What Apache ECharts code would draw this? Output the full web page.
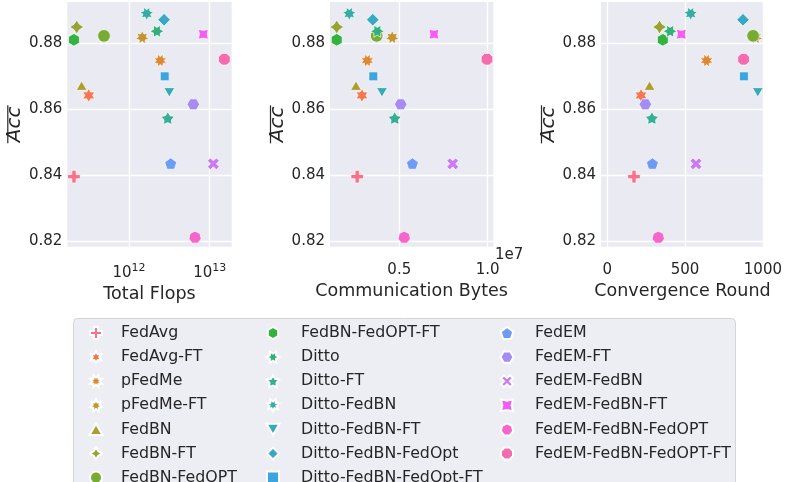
<!DOCTYPE html>
<html>
<head>
<meta charset="utf-8">
<script src="https://cdn.jsdelivr.net/npm/echarts@6/dist/echarts.min.js"></script>
<style>
  html, body { margin: 0; padding: 0; background: #ffffff; }
  #chart { width: 785px; height: 482px; }
</style>
</head>
<body>
<div id="chart"></div>
<script>
// ---- data -------------------------------------------------------------
const methods = [
  'FedAvg', 'FedAvg-FT', 'pFedMe', 'pFedMe-FT', 'FedBN', 'FedBN-FT', 'FedBN-FedOPT',
  'FedBN-FedOPT-FT', 'Ditto', 'Ditto-FT', 'Ditto-FedBN', 'Ditto-FedBN-FT', 'Ditto-FedBN-FedOpt',
  'Ditto-FedBN-FedOpt-FT', 'FedEM', 'FedEM-FT', 'FedEM-FedBN', 'FedEM-FedBN-FT',
  'FedEM-FedBN-FedOPT', 'FedEM-FedBN-FedOPT-FT'
];
const accuracy = [
  0.8395, 0.8642, 0.8748, 0.8818, 0.8667, 0.8850, 0.8823,
  0.8811, 0.8837, 0.8571, 0.8891, 0.8656, 0.8872,
  0.8700, 0.8433, 0.8615, 0.8434, 0.8828,
  0.8210, 0.8752
];
const totalFlops = [
  2.08e11, 3.17e11, 2.44e12, 1.46e12, 2.59e11, 2.25e11, 4.90e11,
  2.08e11, 2.22e12, 3.02e12, 1.66e12, 3.16e12, 2.72e12,
  2.77e12, 3.29e12, 6.27e12, 1.11e13, 8.34e12,
  6.58e12, 1.52e13
];
const commBytes = [
  2.62e6, 2.89e6, 3.19e6, 4.60e6, 2.55e6, 1.46e6, 3.72e6,
  1.46e6, 3.76e6, 4.74e6, 2.17e6, 4.02e6, 3.50e6,
  3.53e6, 5.74e6, 5.08e6, 8.02e6, 6.96e6,
  5.28e6, 9.96e6
];
const convRounds = [
  172, 217, 638, 955, 272, 336, 937,
  357, 404, 287, 536, 967, 872,
  878, 290, 245, 570, 476,
  328, 876
];
const flopsTicks = [1e12, 1e13];
const bytesTicks = [5e6, 1e7];
const roundTicks = [0, 500, 1000];
const accTicks = [0.82, 0.84, 0.86, 0.88];

// ---- husl palette (same algorithm seaborn uses) -----------------------
function huslPalette(n, h, s, l) {
  const M = [[3.2406, -1.5372, -0.4986], [-0.9689, 1.8758, 0.0415], [0.0557, -0.2040, 1.0570]];
  const refU = 0.19784, refV = 0.46834;
  function maxChroma(L, H) {
    const hr = H * Math.PI / 180, sinH = Math.sin(hr), cosH = Math.cos(hr);
    const sub1 = Math.pow(L + 16, 3) / 1560896;
    const sub2 = sub1 > 0.008856 ? sub1 : L / 903.3;
    let result = Infinity;
    for (const [m1, m2, m3] of M) {
      const top = (0.99915 * m1 + 1.05122 * m2 + 1.14460 * m3) * sub2;
      const rb = 0.86330 * m3 - 0.17266 * m2;
      const lb = 0.12949 * m3 - 0.38848 * m1;
      const bottom = (rb * sinH + lb * cosH) * sub2;
      for (const t of [0, 1]) {
        const C = L * (top - 1.05122 * t) / (bottom + 0.17266 * sinH * t);
        if (C > 0 && C < result) result = C;
      }
    }
    return result;
  }
  function toHex(H, S, L) {
    const C = maxChroma(L, H) / 100 * S;
    const hr = H * Math.PI / 180;
    const U = Math.cos(hr) * C, V = Math.sin(hr) * C;
    const varY = L > 8 ? Math.pow((L + 16) / 116, 3) : L / 903.3;
    const varU = U / (13 * L) + refU, varV = V / (13 * L) + refV;
    const Y = varY;
    const X = -(9 * Y * varU) / ((varU - 4) * varV - varU * varV);
    const Z = (9 * Y - 15 * varV * Y - varV * X) / (3 * varV);
    return '#' + M.map(r => {
      let c = r[0] * X + r[1] * Y + r[2] * Z;
      c = c <= 0.0031308 ? 12.92 * c : 1.055 * Math.pow(c, 1 / 2.4) - 0.055;
      c = Math.min(1, Math.max(0, c));
      return Math.round(c * 255).toString(16).padStart(2, '0');
    }).join('');
  }
  const out = [];
  for (let i = 0; i < n; i++) {
    const hue = ((i / n + h) % 1) * 359;
    out.push(toHex(hue, s * 99, l * 99));
  }
  return out;
}
const colors = huslPalette(methods.length, 0.01, 0.9, 0.65);

// ---- marker shapes ----------------------------------------------------
const R = 6.3;        // marker radius in px
const STAR_R = 7.0;   // star markers read a little larger
const STAR_INNER = 0.55;
const markerSpecs = [
  ['plus'], ['star', 6, 0], ['star', 8, 22.5], ['star', 7, 0], ['poly', 3, 0], ['star', 4, 0], ['circle'],
  ['poly', 6, 0], ['star', 6, 30], ['star', 5, 0], ['star', 7, 25.7], ['poly', 3, 180], ['poly', 4, 0],
  ['poly', 4, 45], ['poly', 5, 0], ['poly', 6, 30], ['cross'], ['star', 4, 45],
  ['poly', 7, 0], ['poly', 8, 22.5]
];
function shapePoints(spec) {
  const kind = spec[0];
  if (kind === 'plus' || kind === 'cross') {
    const base = [[-1,-3],[1,-3],[1,-1],[3,-1],[3,1],[1,1],[1,3],[-1,3],[-1,1],[-3,1],[-3,-1],[-1,-1]];
    const a = kind === 'cross' ? Math.PI / 4 : 0;
    const c = Math.cos(a), s = Math.sin(a);
    return base.map(([x, y]) => { const X = x / 3, Y = y / 3; return [X * c - Y * s, -(X * s + Y * c)]; });
  }
  const n = spec[1], star = kind === 'star', ang = spec[2] * Math.PI / 180;
  const count = star ? 2 * n : n;
  const pts = [];
  for (let i = 0; i < count; i++) {
    const th = 2 * Math.PI * i / count + Math.PI / 2 + ang;
    const rad = star && i % 2 === 1 ? STAR_INNER : 1;
    pts.push([rad * Math.cos(th), -rad * Math.sin(th)]);
  }
  return pts;
}
const shapes = markerSpecs.map(spec => {
  if (spec[0] === 'circle') return { symbol: 'circle', size: 2 * R, offset: [0, 0] };
  const rr = spec[0] === 'star' ? STAR_R : R;
  const pts = shapePoints(spec);
  const xs = pts.map(p => p[0]), ys = pts.map(p => p[1]);
  const x0 = Math.min(...xs), x1 = Math.max(...xs), y0 = Math.min(...ys), y1 = Math.max(...ys);
  const d = pts.map((p, i) => (i ? 'L' : 'M') + (p[0] * 100).toFixed(2) + ' ' + (p[1] * 100).toFixed(2)).join(' ') + ' Z';
  return {
    symbol: 'path://' + d,
    size: [(x1 - x0) * rr, (y1 - y0) * rr],
    offset: [(x0 + x1) / 2 * rr, (y0 + y1) / 2 * rr]
  };
});

// ---- layout -----------------------------------------------------------
const ink = '#262626';
const gridTop = 2, gridHeight = 244.7;
const panels = [
  { left: 67.3, width: 164.4, values: totalFlops, title: 'Total Flops', type: 'log',
    min: 1.72e11, max: 1.873e13, ticks: flopsTicks,
    fmt: v => '10{sup|' + Math.round(Math.log10(v)) + '}' },
  { left: 330, width: 163.3, values: commBytes, title: 'Communication Bytes', type: 'value',
    min: 1.08e6, max: 1.0317e7, ticks: bytesTicks, fmt: v => (v / 1e7).toFixed(1) },
  { left: 601, width: 164, values: convRounds, title: 'Convergence Round', type: 'value',
    min: -40, max: 1006, ticks: roundTicks, fmt: v => String(v) }
];

const grid = panels.map(p => ({
  left: p.left, top: gridTop, width: p.width, height: gridHeight,
  show: true, backgroundColor: '#eaeaf2', borderWidth: 0, containLabel: false
}));
const splitStyle = { show: true, lineStyle: { color: '#ffffff', width: 1.3 } };
const xAxis = panels.map((p, i) => ({
  gridIndex: i, type: p.type, logBase: 10, min: p.min, max: p.max,
  name: p.title, nameLocation: 'middle', nameGap: 36,
  nameTextStyle: { fontSize: 17.5, color: ink },
  axisLine: { show: false },
  axisTick: { show: false, customValues: p.ticks },
  splitLine: splitStyle,
  axisLabel: {
    customValues: p.ticks, formatter: p.fmt, fontSize: 15, color: ink, margin: 16,
    rich: { sup: { fontSize: 11, padding: [0, 0, 9, 0], color: ink } }
  }
}));
const yAxis = panels.map((p, i) => ({
  gridIndex: i, type: 'value', min: 0.8182, max: 0.8926,
  name: 'Acc', nameLocation: 'middle', nameRotate: 90, nameGap: 40,
  nameTextStyle: { fontSize: 20, fontStyle: 'italic', color: ink },
  axisLine: { show: false },
  axisTick: { show: false, customValues: accTicks },
  splitLine: splitStyle,
  axisLabel: { customValues: accTicks, formatter: v => v.toFixed(2), fontSize: 15, color: ink, margin: 5 }
}));

const series = [];
panels.forEach((p, gi) => {
  methods.forEach((name, i) => {
    series.push({
      type: 'scatter', name, xAxisIndex: gi, yAxisIndex: gi,
      data: [[p.values[i], accuracy[i]]],
      symbol: shapes[i].symbol, symbolSize: shapes[i].size, symbolOffset: shapes[i].offset,
      itemStyle: { color: colors[i], borderColor: '#ffffff', borderWidth: 0.7, opacity: 1 },
      emphasis: { disabled: true }, silent: true, animation: false
    });
  });
});

// legend in three columns
const legendCols = [[0, 7], [7, 14], [14, 20]];
const legendLeft = [88.5, 265.5, 499.5];
const legendTextPad = [13.5, 16.5, 16.5];
const legend = legendCols.map(([a, b], k) => ({
  orient: 'vertical', left: legendLeft[k], top: 325, height: 220, padding: 0,
  itemWidth: 13, itemHeight: 12, itemGap: 8.1, selectedMode: false,
  data: methods.slice(a, b),
  textStyle: { fontSize: 15.8, color: ink, lineHeight: 16, padding: [0, 0, 0, legendTextPad[k]] }
}));

// overlines above the rotated "Acc" names, plus legend frame and offset text
const graphic = [
  { type: 'rect', shape: { x: 73.5, y: 318.5, width: 662, height: 180, r: 4 },
    style: { fill: '#ededf4', stroke: '#d4d4d4', lineWidth: 1 }, z: -10 },
  { type: 'text', style: { x: 495, y: 255, text: '1e7', fontSize: 15, fill: ink,
    verticalAlign: 'middle', fontFamily: 'DejaVu Sans' } }
];
panels.forEach(p => {
  const cx = p.left - 59.5, cy = gridTop + gridHeight / 2;
  graphic.push({ type: 'line', shape: { x1: cx, y1: cy - 19, x2: cx, y2: cy + 19 },
    style: { stroke: ink, lineWidth: 1.2 } });
});

const chart = echarts.init(document.getElementById('chart'), null, { renderer: 'canvas' });
chart.setOption({
  animation: false,
  backgroundColor: '#ffffff',
  textStyle: { fontFamily: 'DejaVu Sans' },
  grid, xAxis, yAxis, series, legend, graphic
});
</script>
</body>
</html>
